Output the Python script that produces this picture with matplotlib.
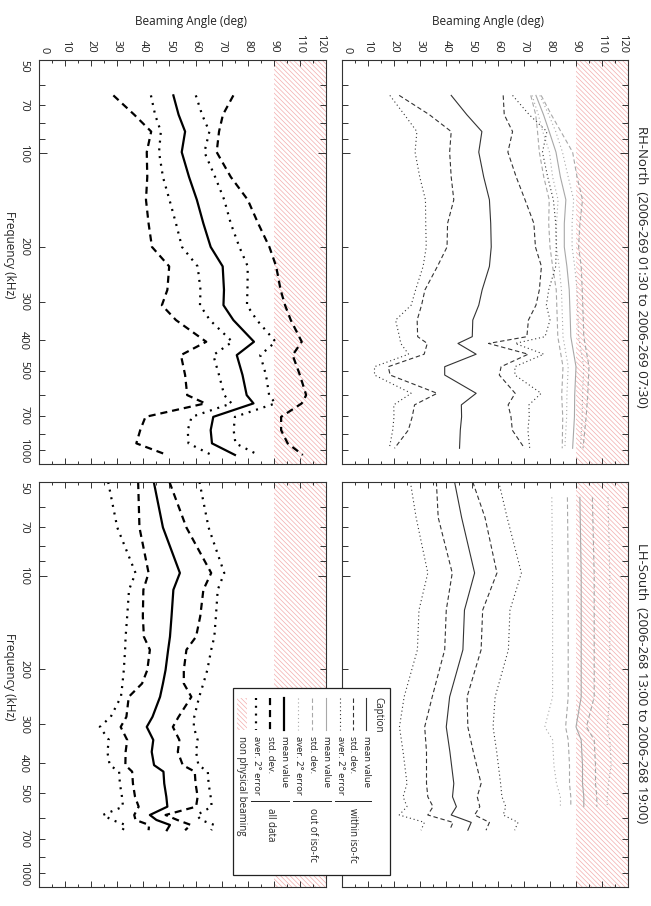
import matplotlib
matplotlib.use("Agg")
import matplotlib.pyplot as plt
import numpy as np
from matplotlib.ticker import FixedLocator, FuncFormatter
from matplotlib.patches import Rectangle

plt.rcParams['font.family'] = ['Open Sans', 'DejaVu Sans']
plt.rcParams['hatch.linewidth'] = 0.5

# ---------------- data ----------------
angle_ticks = [0, 10, 20, 30, 40, 50, 60, 70, 80, 90, 100, 110]
angle_tick_labels = ['0', '10', '20', '30', '40', '50', '60', '70', '80', '90', '110', '120']
freq_tick_labels = [50, 70, 100, 200, 300, 400, 500, 700, 1000]

# RH-North, all data
rhn_all_freq = [65, 75, 85, 99, 119, 141, 168, 200, 231, 275, 308, 344, 404, 446, 517, 600, 638, 705, 778, 858, 935]
rhn_all_mean = [51.5, 53.5, 56.0, 54.7, 57.5, 60.5, 63.0, 65.8, 70.4, 70.9, 70.7, 74.5, 82.4, 75.8, 78.0, 79.6, 82.2, 66.8, 65.8, 66.3, 75.1]
rhn_all_std = [23, 17, 13, 13.4, 16, 19.5, 21, 22.5, 20.5, 21.7, 23.6, 22, 18.3, 21.4, 22, 22.8, 18.5, 26, 27, 29, 26]
rhn_all_err = [8.6, 9, 9.3, 8.7, 10, 10.5, 10.5, 11, 9.6, 9, 9, 9, 8.3, 9, 9, 8.6, 8.4, 8.3, 8.8, 9, 9]

# RH-North, within iso-fc
rhn_in_freq = [65, 75, 85, 99, 119, 141, 168, 200, 231, 275, 308, 344, 389, 409, 443, 486, 517, 592, 645, 705, 778, 890]
rhn_in_mean = [42, 48, 53.8, 52.6, 54.5, 56.7, 57.2, 57.4, 56.7, 53.9, 52.6, 50.3, 50.1, 44.6, 51.6, 39.5, 39.5, 51.6, 45.9, 46, 45.5, 45.2]
rhn_in_std = [20, 14.4, 11.8, 11.2, 12.5, 13.7, 16.6, 17, 20, 22, 22, 21.4, 21, 11.8, 20, 21.7, 21, 15, 18, 19, 20, 25]
rhn_in_err = [23.6, 24, 25, 24.5, 24.6, 24.6, 25, 25, 25.5, 25.6, 26, 29.7, 28, 22, 26, 27, 27, 25, 26, 26, 26, 27]

# RH-North, out of iso-fc
rhn_out_freq = [65, 75, 85, 99, 119, 141, 168, 200, 231, 275, 344, 389, 486, 600, 705, 890]
rhn_out_mean = [74.6, 77.5, 79.7, 82.3, 84, 86.1, 85.5, 85.5, 86.5, 87.4, 87.8, 88, 90, 89.5, 89.4, 88.7]
rhn_out_std = [2, 3, 4.5, 6.4, 6.4, 6.4, 6, 5.5, 5.5, 5, 5, 5, 5, 5, 4.5, 4]
rhn_out_err = [1.5, 2, 2.5, 2.5, 3, 3, 3, 3, 3, 3, 3, 3, 3, 3, 3, 3]

# LH-South, all data
lhs_all_freq = [50, 70, 98, 111, 135, 157, 173, 201, 222, 245, 284, 306, 337, 368, 406, 426, 465, 513, 552, 587, 609, 632, 657]
lhs_all_mean = [44, 47.5, 54, 51.5, 50.8, 50.2, 49.5, 48.5, 47.5, 46.4, 43.5, 41.3, 43.8, 43.2, 44.1, 47.7, 48, 48.8, 49.2, 42.5, 45, 50.2, 49]
lhs_all_std = [6, 9, 12, 11.5, 11, 10, 7, 7, 8, 12, 10, 10, 10, 10, 11, 12, 12, 12, 11, 6, 8, 8, 7]
lhs_all_err = [17.5, 17.5, 17, 17, 17, 17, 16.5, 16, 15.5, 15, 16, 18, 17, 17, 17, 17, 17, 17, 17, 18, 17, 17, 17]

# LH-South, within iso-fc
lhs_in_freq = [50, 65, 98, 129, 173, 245, 306, 368, 465, 513, 552, 587, 620, 657]
lhs_in_mean = [43.3, 46, 51, 47.1, 46.5, 41.4, 40.1, 41.5, 43, 42.5, 44, 42, 49.7, 48.4]
lhs_in_std = [7, 9, 8.6, 7, 7, 6.7, 8.3, 9, 10.5, 9.5, 9, 9, 7, 7]
lhs_in_err = [17, 17.5, 18, 17.5, 17.5, 17.5, 18, 18, 18, 19, 19, 20, 18, 18]

# LH-South, out of iso-fc
lhs_out_freq = [56, 100, 173, 245, 306, 337, 406, 465, 513, 552]
lhs_out_mean = [91.5, 92, 92, 92, 90, 92, 92.5, 92.5, 93, 93]
lhs_out_std = [4.8, 5, 5, 5, 4, 5, 5, 5, 5, 5]
lhs_out_err = [10.8, 11, 11, 11, 12, 11, 11, 10, 9, 9]

titles = ['RH-North  (2006-269 01:30 to 2006-269 07:30)',
          'LH-South  (2006-268 13:00 to 2006-268 19:00)']
legend_items = ['mean value', 'std. dev.', 'aver. 2\u00b0 error']
legend_groups = ['within iso-fc', 'out of iso-fc', 'all data']

# ---------------- styles ----------------
W, H = 651, 906
HATCH = '\\\\\\\\\\\\\\'
HATCH_COLOR = '#f2adad'
THIN = dict(color='#333333', lw=0.8)
GRAY = dict(color='#a8a8a8', lw=0.8)
THICK = dict(color='black', lw=1.6)
DASH_THIN = (0, (4, 2.5))
DOT_THIN = (0, (1, 2.5))
DASH_THICK = (0, (3.2, 2.2))
DOT_THICK = (0, (0.9, 2.6))

fig = plt.figure(figsize=(W / 100, H / 100), dpi=100)


def rect(x0, y0, x1, y1):
    return [x0 / W, 1 - y1 / H, (x1 - x0) / W, (y1 - y0) / H]


def fmt(v, pos):
    for t in freq_tick_labels:
        if abs(v - t) < 1e-6:
            return str(t)
    return ''


def setup(ax, top_labels, left_labels):
    ax.set_yscale('log')
    ax.set_xlim(0, 110)
    ax.set_ylim(1000, 50)
    ax.axvspan(90, 110, facecolor='none', edgecolor=HATCH_COLOR, hatch=HATCH, lw=0, zorder=0)
    ax.xaxis.set_major_locator(FixedLocator(angle_ticks))
    ax.xaxis.set_minor_locator(FixedLocator(np.arange(5, 110, 10)))
    ax.set_xticklabels(angle_tick_labels)
    ax.yaxis.set_major_locator(FixedLocator([100, 1000]))
    ax.yaxis.set_minor_locator(FixedLocator([50, 60, 70, 80, 90, 200, 300, 400, 500, 600, 700, 800, 900]))
    ax.yaxis.set_major_formatter(FuncFormatter(fmt))
    ax.yaxis.set_minor_formatter(FuncFormatter(fmt))
    ax.tick_params(which='both', direction='in', top=True, bottom=True, left=True, right=True,
                   labelbottom=False, labeltop=top_labels, labelleft=left_labels, labelright=False,
                   labelsize=8, width=0.7, color='#333333', labelcolor='#222222')
    ax.tick_params(axis='x', which='major', length=4.5, pad=5, labelrotation=-90)
    ax.tick_params(axis='x', which='minor', length=2.5)
    ax.tick_params(axis='y', which='major', length=6, pad=7, labelrotation=-90)
    ax.tick_params(axis='y', which='minor', length=4, pad=7, labelrotation=-90)
    for t in ax.get_yticklabels(which='both'):
        t.set_verticalalignment('center')
    for tick in ax.yaxis.get_major_ticks() + ax.yaxis.get_minor_ticks():
        if abs(tick.get_loc() - 1000) < 1e-6:
            tick.label1.set_verticalalignment('bottom')
        elif abs(tick.get_loc() - 50) < 1e-6:
            tick.label1.set_verticalalignment('top')
    xt = ax.xaxis.get_major_ticks()
    xt[0].label2.set_horizontalalignment('left')
    xt[-1].label2.set_horizontalalignment('right')
    for s in ax.spines.values():
        s.set_linewidth(0.8)
        s.set_color('#333333')


def draw_set(ax, freq, mean, std, err, base, dash, dot):
    m = np.array(mean)
    s = np.array(std)
    e = np.array(err)
    ax.plot(m, freq, ls='-', **base)
    ax.plot(m - s, freq, ls=dash, **base)
    ax.plot(m + s, freq, ls=dash, **base)
    ax.plot(m - e, freq, ls=dot, **base)
    ax.plot(m + e, freq, ls=dot, **base)


ax_tl = fig.add_axes(rect(39, 60, 326, 464))
ax_tr = fig.add_axes(rect(342, 60, 628, 464))
ax_bl = fig.add_axes(rect(39, 482, 326, 887))
ax_br = fig.add_axes(rect(342, 482, 628, 887))

setup(ax_tl, True, True)
setup(ax_tr, True, False)
setup(ax_bl, False, True)
setup(ax_br, False, False)

draw_set(ax_tl, rhn_all_freq, rhn_all_mean, rhn_all_std, rhn_all_err, THICK, DASH_THICK, DOT_THICK)
draw_set(ax_tr, rhn_out_freq, rhn_out_mean, rhn_out_std, rhn_out_err, GRAY, DASH_THIN, DOT_THIN)
draw_set(ax_tr, rhn_in_freq, rhn_in_mean, rhn_in_std, rhn_in_err, THIN, DASH_THIN, DOT_THIN)
draw_set(ax_bl, lhs_all_freq, lhs_all_mean, lhs_all_std, lhs_all_err, THICK, DASH_THICK, DOT_THICK)
draw_set(ax_br, lhs_out_freq, lhs_out_mean, lhs_out_std, lhs_out_err, GRAY, DASH_THIN, DOT_THIN)
draw_set(ax_br, lhs_in_freq, lhs_in_mean, lhs_in_std, lhs_in_err, THIN, DASH_THIN, DOT_THIN)

# axis labels and titles (figure rotated: text reads top to bottom)
txt = dict(color='#222222')
fig.text(191 / W, 1 - 21 / H, 'Beaming Angle (deg)', ha='center', va='center', fontsize=8.5, **txt)
fig.text(488 / W, 1 - 21 / H, 'Beaming Angle (deg)', ha='center', va='center', fontsize=8.5, **txt)
fig.text(9 / W, 1 - 255 / H, 'Frequency (kHz)', ha='center', va='center', rotation=-90, fontsize=8.5, **txt)
fig.text(9 / W, 1 - 677 / H, 'Frequency (kHz)', ha='center', va='center', rotation=-90, fontsize=8.5, **txt)
fig.text(642 / W, 1 - 267 / H, titles[0], ha='center', va='center', rotation=-90, fontsize=9.5, **txt)
fig.text(642 / W, 1 - 683 / H, titles[1], ha='center', va='center', rotation=-90, fontsize=9.5, **txt)

# legend ("Caption") box drawn on an overlay in pixel units
lax = fig.add_axes([0, 0, 1, 1], zorder=10)
lax.set_xlim(0, W)
lax.set_ylim(H, 0)
lax.axis('off')
lax.add_patch(Rectangle((233, 688), 157, 187, facecolor='white', edgecolor='#222222', lw=0.9))
lax.text(378, 697, 'Caption', rotation=-90, ha='center', va='top', fontsize=7, **txt)
rows = [366, 353, 340, 326, 312, 298, 284, 270, 256]
bases = [THIN, THIN, THIN, GRAY, GRAY, GRAY, THICK, THICK, THICK]
styles = ['-', DASH_THIN, DOT_THIN, '-', DASH_THIN, DOT_THIN, '-', DASH_THICK, DOT_THICK]
for i, (xr, b, st) in enumerate(zip(rows, bases, styles)):
    lax.plot([xr, xr], [698, 730], ls=st, **b)
    lax.text(xr, 736, legend_items[i % 3], rotation=-90, ha='center', va='top', fontsize=6.8, **txt)
for g in range(3):
    x1, x3 = rows[3 * g], rows[3 * g + 2]
    lax.plot([x1 + 5, x3 - 5], [801, 801], color='#222222', lw=0.7)
    lax.text(rows[3 * g + 1], 808, legend_groups[g], rotation=-90, ha='center', va='top', fontsize=7, **txt)
lax.add_patch(Rectangle((237, 698), 10, 32, facecolor='none', edgecolor=HATCH_COLOR, hatch=HATCH, lw=0))
lax.text(242, 736, 'non physical beaming', rotation=-90, ha='center', va='top', fontsize=7, **txt)

fig.savefig('out.png', dpi=100)
